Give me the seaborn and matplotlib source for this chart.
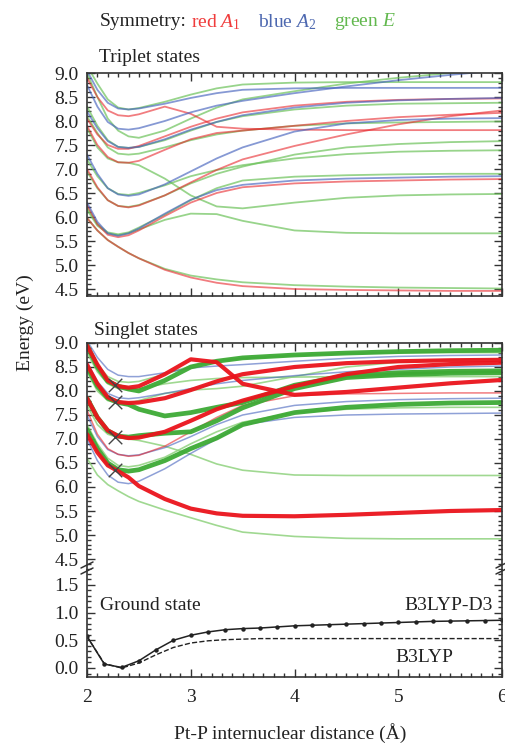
import matplotlib
matplotlib.use("Agg")
import matplotlib.pyplot as plt
import seaborn as sns
from matplotlib.ticker import MultipleLocator, FormatStrFormatter
from matplotlib.lines import Line2D

# ---------------- data ----------------
r_grid = [2.0, 2.1, 2.2, 2.3, 2.4, 2.5, 2.75, 3.0, 3.25, 3.5, 4.0, 4.5, 5.0, 5.5, 6.0]

# Triplet states
trip_red = [
    [5.98, 5.72, 5.52, 5.38, 5.25, 5.14, 4.90, 4.74, 4.63, 4.56, 4.50, 4.48, 4.47, 4.46, 4.46],
    [6.25, 5.85, 5.63, 5.58, 5.62, 5.72, 6.02, 6.30, 6.50, 6.62, 6.70, 6.74, 6.76, 6.78, 6.79],
    [7.00, 6.62, 6.35, 6.23, 6.20, 6.24, 6.45, 6.72, 6.98, 7.20, 7.48, 7.72, 7.93, 8.10, 8.22],
    [7.90, 7.50, 7.25, 7.14, 7.13, 7.17, 7.40, 7.62, 7.75, 7.80, 7.90, 8.00, 8.08, 8.13, 8.17],
    [8.05, 7.72, 7.50, 7.42, 7.42, 7.48, 7.68, 7.88, 8.05, 8.18, 8.32, 8.40, 8.44, 8.46, 8.47],
    [8.90, 8.50, 8.22, 8.12, 8.10, 8.14, 8.30, 8.15, 7.88, 7.84, 7.82, 7.81, 7.81, 7.81, 7.81],
]
trip_blue = [
    [6.30, 5.90, 5.66, 5.61, 5.66, 5.76, 6.07, 6.36, 6.56, 6.67, 6.76, 6.80, 6.82, 6.84, 6.85],
    [7.30, 6.90, 6.60, 6.47, 6.44, 6.47, 6.68, 6.95, 7.22, 7.45, 7.78, 7.95, 8.02, 8.05, 8.06],
    [8.20, 7.85, 7.58, 7.46, 7.44, 7.46, 7.62, 7.82, 7.98, 8.12, 8.28, 8.38, 8.43, 8.46, 8.48],
    [8.75, 8.30, 7.98, 7.84, 7.82, 7.85, 8.00, 8.18, 8.32, 8.42, 8.58, 8.72, 8.85, 8.96, 9.06],
    [9.05, 8.65, 8.38, 8.26, 8.24, 8.26, 8.36, 8.48, 8.58, 8.65, 8.68, 8.69, 8.69, 8.69, 8.69],
]
trip_green = [
    [5.98, 5.72, 5.52, 5.38, 5.25, 5.14, 4.92, 4.78, 4.70, 4.64, 4.58, 4.55, 4.53, 4.52, 4.51],
    [6.15, 5.82, 5.66, 5.62, 5.66, 5.74, 5.94, 6.07, 6.06, 5.92, 5.72, 5.67, 5.66, 5.66, 5.66],
    [6.20, 5.85, 5.68, 5.64, 5.68, 5.78, 6.05, 6.35, 6.60, 6.76, 6.84, 6.87, 6.89, 6.90, 6.90],
    [7.85, 7.45, 7.22, 7.14, 7.13, 7.08, 6.80, 6.45, 6.22, 6.18, 6.30, 6.40, 6.45, 6.47, 6.48],
    [7.20, 6.85, 6.60, 6.48, 6.46, 6.50, 6.66, 6.85, 6.98, 7.08, 7.22, 7.31, 7.36, 7.38, 7.39],
    [6.95, 6.60, 6.35, 6.23, 6.21, 6.25, 6.45, 6.70, 6.90, 7.05, 7.30, 7.45, 7.52, 7.56, 7.58],
    [8.10, 7.75, 7.45, 7.32, 7.30, 7.32, 7.45, 7.60, 7.72, 7.80, 7.90, 7.95, 7.97, 7.98, 7.99],
    [8.30, 7.90, 7.60, 7.46, 7.44, 7.46, 7.60, 7.80, 7.98, 8.10, 8.24, 8.32, 8.36, 8.37, 8.38],
    [9.00, 8.50, 8.05, 7.80, 7.68, 7.65, 7.80, 8.05, 8.28, 8.45, 8.62, 8.78, 8.90, 9.00, 9.10],
    [9.15, 8.78, 8.45, 8.28, 8.24, 8.27, 8.40, 8.55, 8.68, 8.76, 8.80, 8.81, 8.81, 8.81, 8.81],
]

# Singlet states: thin lines
sing_blue_thin = [
    [7.00, 6.55, 6.25, 6.10, 6.07, 6.12, 6.38, 6.70, 7.00, 7.30, 7.45, 7.50, 7.52, 7.53, 7.54],
    [7.50, 7.05, 6.78, 6.68, 6.65, 6.67, 6.82, 7.05, 7.30, 7.50, 7.70, 7.78, 7.82, 7.84, 7.85],
    [8.60, 8.20, 7.95, 7.86, 7.84, 7.86, 7.95, 8.05, 8.15, 8.22, 8.32, 8.40, 8.45, 8.50, 8.52],
    [9.05, 8.70, 8.45, 8.33, 8.30, 8.30, 8.38, 8.48, 8.52, 8.55, 8.62, 8.68, 8.72, 8.74, 8.75],
]
sing_green_thin = [
    [6.60, 6.25, 6.05, 5.92, 5.80, 5.70, 5.52, 5.36, 5.20, 5.06, 4.97, 4.93, 4.92, 4.92, 4.92],
    [7.70, 7.30, 7.10, 7.03, 7.00, 6.97, 6.85, 6.68, 6.48, 6.35, 6.25, 6.24, 6.24, 6.24, 6.24],
    [7.30, 6.90, 6.60, 6.45, 6.42, 6.45, 6.62, 6.90, 7.15, 7.35, 7.55, 7.62, 7.65, 7.66, 7.66],
    [8.40, 8.00, 7.80, 7.74, 7.74, 7.80, 7.95, 8.02, 8.05, 8.10, 8.30, 8.50, 8.60, 8.65, 8.67],
    [8.80, 8.40, 8.15, 8.05, 8.02, 8.05, 8.15, 8.22, 8.26, 8.28, 8.29, 8.30, 8.30, 8.30, 8.30],
    [9.00, 8.55, 8.30, 8.20, 8.18, 8.20, 8.35, 8.52, 8.62, 8.68, 8.74, 8.78, 8.80, 8.80, 8.80],
]
sing_red_thin = [
    [7.60, 7.10, 6.80, 6.68, 6.64, 6.66, 6.85, 7.15, 7.45, 7.70, 7.90, 7.94, 7.95, 7.96, 7.96],
]
# Singlet states: bright (thick) lines
sing_red_thick = [
    [7.10, 6.72, 6.45, 6.33, 6.20, 6.02, 5.75, 5.55, 5.45, 5.40, 5.39, 5.42, 5.46, 5.50, 5.52],
    [7.85, 7.45, 7.18, 7.06, 7.02, 7.03, 7.15, 7.38, 7.62, 7.80, 8.10, 8.35, 8.50, 8.56, 8.59],
    [8.55, 8.15, 7.87, 7.77, 7.75, 7.76, 7.85, 8.02, 8.20, 8.35, 8.50, 8.58, 8.62, 8.64, 8.65],
    [8.95, 8.55, 8.22, 8.10, 8.07, 8.10, 8.35, 8.66, 8.60, 8.15, 7.92, 7.98, 8.07, 8.16, 8.23],
]
sing_green_thick = [
    [7.20, 6.80, 6.50, 6.36, 6.33, 6.36, 6.55, 6.80, 7.02, 7.30, 7.55, 7.66, 7.72, 7.75, 7.76],
    [7.85, 7.45, 7.17, 7.06, 7.04, 7.07, 7.12, 7.15, 7.38, 7.65, 8.05, 8.28, 8.34, 8.37, 8.38],
    [8.50, 8.10, 7.85, 7.76, 7.72, 7.62, 7.48, 7.55, 7.66, 7.76, 8.12, 8.32, 8.38, 8.41, 8.42],
    [8.95, 8.50, 8.20, 8.10, 8.04, 8.00, 8.22, 8.50, 8.62, 8.69, 8.75, 8.79, 8.82, 8.84, 8.85],
]
cross_r = [2.27, 2.27, 2.27, 2.27]
cross_e = [8.12, 7.77, 7.04, 6.36]

# Ground state
r_ground = [2.0, 2.167, 2.333, 2.5, 2.667, 2.833, 3.0, 3.167, 3.333, 3.5, 3.667, 3.833, 4.0,
            4.167, 4.333, 4.5, 4.667, 4.833, 5.0, 5.167, 5.333, 5.5, 5.667, 5.833, 6.0]
e_d3 = [0.57, 0.07, 0.01, 0.13, 0.33, 0.50, 0.59, 0.65, 0.69, 0.71, 0.72, 0.74, 0.76,
        0.77, 0.78, 0.79, 0.80, 0.81, 0.82, 0.83, 0.84, 0.845, 0.85, 0.855, 0.86]
e_b3 = [0.57, 0.08, 0.00, 0.09, 0.24, 0.37, 0.45, 0.49, 0.51, 0.52, 0.53, 0.53, 0.53,
        0.53, 0.53, 0.53, 0.53, 0.53, 0.53, 0.53, 0.53, 0.53, 0.53, 0.53, 0.53]

xticks = [2, 3, 4, 5, 6]

# ---------------- style ----------------
sns.set_theme(style="ticks")
plt.rcParams["font.family"] = ["Liberation Serif", "DejaVu Serif"]
plt.rcParams["mathtext.fontset"] = "custom"
plt.rcParams["mathtext.rm"] = "Liberation Serif"
plt.rcParams["mathtext.it"] = "Liberation Serif:italic"
FS = 14
RED, BLUE, GREEN = "#e8262b", "#4562bd", "#6cc25a"
GREEN_L = "#8fd27e"
FRAME = "#333333"

W, H = 505, 744
fig = plt.figure(figsize=(W / 100, H / 100), dpi=100)


def fx(px):
    return px / W


def fy(py):
    return 1 - py / H


L, R = 87, 502
ax_t = fig.add_axes([fx(L), fy(296), (R - L) / W, (296 - 73) / H])
ax_s = fig.add_axes([fx(L), fy(570), (R - L) / W, (570 - 343) / H])
ax_g = fig.add_axes([fx(L), fy(677), (R - L) / W, (677 - 570) / H])


def line(ax, ys, color, lw, alpha=1.0):
    sns.lineplot(x=r_grid, y=ys, ax=ax, color=color, lw=lw, alpha=alpha,
                 legend=False, sort=False, estimator=None)


for ys in trip_green:
    line(ax_t, ys, GREEN, 1.3, 0.7)
for ys in trip_red:
    line(ax_t, ys, RED, 1.3, 0.6)
for ys in trip_blue:
    line(ax_t, ys, BLUE, 1.3, 0.65)

for ys in sing_green_thin:
    line(ax_s, ys, GREEN_L, 1.2, 0.85)
for ys in sing_blue_thin:
    line(ax_s, ys, BLUE, 1.1, 0.6)
for ys in sing_red_thin:
    line(ax_s, ys, RED, 1.1, 0.6)
for ys in sing_green_thick:
    line(ax_s, ys, "#3daa35", 3.4, 0.95)
for ys in sing_red_thick:
    line(ax_s, ys, "#ea141c", 3.0, 0.95)
sns.scatterplot(x=cross_r, y=cross_e, ax=ax_s, marker="x", s=95, color="#444444",
                linewidth=1.0, zorder=5, legend=False)

sns.lineplot(x=r_ground, y=e_d3, ax=ax_g, color="#222222", lw=1.1, marker="o",
             markersize=3.2, markeredgewidth=0, legend=False, sort=False, estimator=None)
sns.lineplot(x=r_ground, y=e_b3, ax=ax_g, color="#222222", lw=1.0, linestyle="--",
             legend=False, sort=False, estimator=None)

# ---------------- axes formatting ----------------
for ax in (ax_t, ax_s, ax_g):
    ax.set_xlim(2, 6)
    ax.set_xticks(xticks)
    ax.xaxis.set_minor_locator(MultipleLocator(0.1))
    ax.yaxis.set_major_locator(MultipleLocator(0.5))
    ax.yaxis.set_minor_locator(MultipleLocator(0.1))
    ax.yaxis.set_major_formatter(FormatStrFormatter("%.1f"))
    ax.tick_params(which="both", direction="in", colors=FRAME, labelcolor="#222222",
                   labelsize=FS, right=True, top=True, width=1.0)
    ax.tick_params(which="major", length=6)
    ax.tick_params(which="minor", length=3)
    ax.tick_params(axis="y", pad=6)
    ax.tick_params(axis="x", pad=9)
    for sp in ax.spines.values():
        sp.set_color(FRAME)
        sp.set_linewidth(1.2)
    ax.set_xlabel("")
    ax.set_ylabel("")

ax_t.set_ylim(9 - 223 / 48, 9.0)
ax_t.set_yticks([4.5, 5.0, 5.5, 6.0, 6.5, 7.0, 7.5, 8.0, 8.5, 9.0])
ax_t.tick_params(axis="x", labelbottom=False)

ax_s.set_ylim(9 - 227 / 48, 9.0)
ax_s.set_yticks([4.5, 5.0, 5.5, 6.0, 6.5, 7.0, 7.5, 8.0, 8.5, 9.0])
ax_s.tick_params(axis="x", which="both", bottom=False, labelbottom=False)
ax_s.spines["bottom"].set_visible(False)

ax_g.set_ylim(-9 / 55.5, 98 / 55.5)
ax_g.set_yticks([0.0, 0.5, 1.0, 1.5])
ax_g.tick_params(axis="x", which="both", top=False)
ax_g.spines["top"].set_visible(False)
ax_g.set_xticklabels([str(t) for t in xticks])

# break marks
for xb in (L, R):
    for yb in (565, 571):
        fig.add_artist(Line2D([fx(xb - 6), fx(xb + 6)], [fy(yb + 3), fy(yb - 3)],
                              color=FRAME, lw=1.1))

# ---------------- texts ----------------
fig.text(fx(99), fy(58), "Triplet states", fontsize=FS, ha="left", va="center", color="#222222")
fig.text(fx(94), fy(330), "Singlet states", fontsize=FS, ha="left", va="center", color="#222222")
fig.text(fx(100), fy(606), "Ground state", fontsize=FS, ha="left", va="center", color="#222222")
fig.text(fx(493), fy(606), "B3LYP-D3", fontsize=FS, ha="right", va="center", color="#222222")
fig.text(fx(453), fy(657), "B3LYP", fontsize=FS, ha="right", va="center", color="#222222")
fig.text(fx(25), fy(323), "Energy (eV)", fontsize=FS, rotation=90, ha="center", va="center",
         color="#222222")
fig.text(fx(290), fy(733), "Pt-P internuclear distance (Å)", fontsize=FS, ha="center",
         va="center", color="#222222")

hy = fy(22)
fig.text(fx(100), hy, "Symmetry:", fontsize=FS, ha="left", va="center", color="#222222")
fig.text(fx(191), hy, r"red $\mathit{A}_{\mathit{1}}$", fontsize=FS, ha="left", va="center",
         color="#f03c3c")
fig.text(fx(258), hy, r"blue $\mathit{A}_{\mathit{2}}$", fontsize=FS, ha="left", va="center",
         color="#4d68b0")
fig.text(fx(334), hy, r"green $\mathit{E}$", fontsize=FS, ha="left", va="center",
         color="#62b84e")

fig.savefig("out.png", dpi=100)
